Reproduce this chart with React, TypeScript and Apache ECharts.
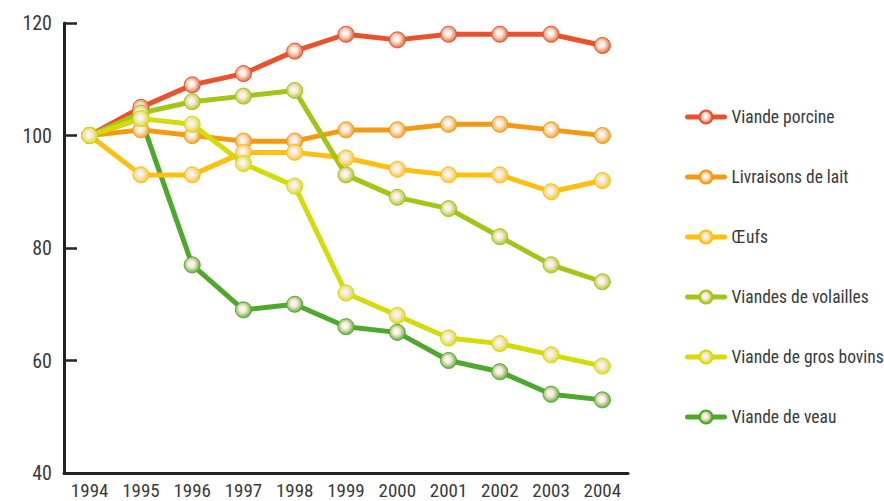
import React, { useEffect, useRef } from "react";
import * as echarts from "echarts";

const years = ["1994", "1995", "1996", "1997", "1998", "1999", "2000", "2001", "2002", "2003", "2004"];
const seriesNames = [
  "Viande porcine",
  "Livraisons de lait",
  "Œufs",
  "Viandes de volailles",
  "Viande de gros bovins",
  "Viande de veau",
];
const porcine = [100, 105, 109, 111, 115, 118, 117, 118, 118, 118, 116];
const lait = [100, 101, 100, 99, 99, 101, 101, 102, 102, 101, 100];
const oeufs = [100, 93, 93, 97, 97, 96, 94, 93, 93, 90, 92];
const volailles = [100, 104, 106, 107, 108, 93, 89, 87, 82, 77, 74];
const bovins = [100, 103, 102, 95, 91, 72, 68, 64, 63, 61, 59];
const veau = [100, 103, 77, 69, 70, 66, 65, 60, 58, 54, 53];
const colors = ["#E9522C", "#F29A12", "#FDC010", "#A2C517", "#D5DA0A", "#4EA82C"];
const yTicks = { min: 40, max: 120, interval: 20 };

const FONT = "Roboto, sans-serif";
const TEXT_COLOR = "#3a3a3a";

export default function App() {
  const ref = useRef<HTMLDivElement>(null);
  useEffect(() => {
    if (!ref.current) return;
    const chart = echarts.init(ref.current, undefined, { renderer: "svg" });
    const values = [porcine, lait, oeufs, volailles, bovins, veau];
    const zs = [3, 3, 3, 3, 4, 2];
    const series = values.map((data, i) => ({
      name: seriesNames[i],
      type: "line",
      data,
      z: zs[i],
      symbol: "circle",
      symbolSize: 16,
      lineStyle: { color: colors[i], width: 5 },
      itemStyle: {
        color: new echarts.graphic.RadialGradient(0.45, 0.45, 0.6, [
          { offset: 0, color: "#ffffff" },
          { offset: 0.35, color: "#fbe9d8" },
          { offset: 1, color: colors[i] },
        ]),
        borderColor: colors[i],
        borderWidth: 1,
      },
      emphasis: { disabled: true },
    }));
    chart.setOption({
      animation: false,
      textStyle: { fontFamily: FONT },
      grid: { left: 64, right: 256, top: 23, bottom: 28, containLabel: false },
      legend: {
        orient: "vertical",
        left: 685,
        top: 108,
        padding: 0,
        itemWidth: 37,
        itemHeight: 16,
        itemGap: 42,
        data: seriesNames,
        lineStyle: { width: 5, cap: "round" },
        textStyle: { fontFamily: FONT, fontSize: 17.5, lineHeight: 18, color: TEXT_COLOR, padding: [0, 0, 0, 2] },
      },
      xAxis: {
        type: "category",
        data: years,
        boundaryGap: true,
        axisLine: { lineStyle: { color: "#222", width: 3 } },
        axisTick: { inside: true, length: 9, lineStyle: { color: "#222", width: 2.5 } },
        axisLabel: { fontFamily: FONT, fontSize: 19, lineHeight: 18, color: TEXT_COLOR, margin: 8, interval: 0 },
        splitLine: { show: false },
      },
      yAxis: {
        type: "value",
        min: yTicks.min,
        max: yTicks.max,
        interval: yTicks.interval,
        axisLine: { show: true, lineStyle: { color: "#222", width: 3 } },
        axisTick: { show: true, inside: true, length: 13, lineStyle: { color: "#222", width: 2.5 } },
        axisLabel: { fontFamily: FONT, fontSize: 20, color: TEXT_COLOR, margin: 12 },
        splitLine: { show: false },
      },
      series,
    });
    return () => chart.dispose();
  }, []);
  return (
    <div className="chartbox" style={{ position: "absolute", left: 0, top: 0, width: 884, height: 501 }}>
      <style>{`.chartbox svg text { font-stretch: condensed !important; }`}</style>
      <div ref={ref} style={{ width: 884, height: 501 }} />
    </div>
  );
}
